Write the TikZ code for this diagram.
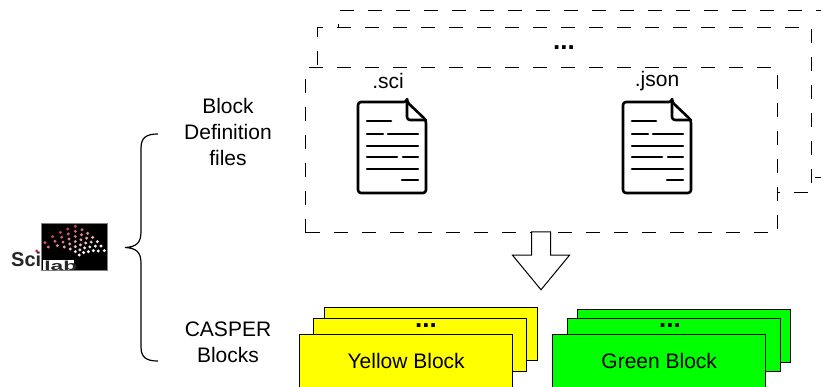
\documentclass[tikz,border=0pt]{standalone}
\usepackage{fontspec}
\setmainfont{Liberation Sans}
\usetikzlibrary{shapes.arrows,positioning}
\definecolor{logored}{RGB}{205,35,50}
\definecolor{blockyellow}{RGB}{255,255,0}
\definecolor{blockgreen}{RGB}{0,255,0}
\begin{document}
\begin{tikzpicture}[x=1pt,y=-1pt,
    dashbox/.style={draw, fill=white, line width=1.3pt, dash pattern=on 14pt off 14pt, anchor=north west, inner sep=0pt},
    blockbox/.style={draw, line width=1.4pt, anchor=north west, inner sep=0pt, minimum width=213pt, minimum height=53pt, font=\fontsize{21}{24}\selectfont},
    sidelabel/.style={font=\fontsize{21}{26}\selectfont, align=center},
    extlabel/.style={font=\fontsize{21}{24}\selectfont},
    dotslabel/.style={font=\bfseries\fontsize{26}{26}\selectfont, inner sep=0pt}
]
    \useasboundingbox (0,0) rectangle (821,387);
    \clip (0,0) rectangle (821,387);

    % Dashed file sets
    \node[dashbox, minimum width=540pt, minimum height=167pt] (backset) at (338,10) {};
    \node[dashbox, minimum width=494pt, minimum height=165pt] (midset) at (317,27) {};
    \node[dashbox, minimum width=472pt, minimum height=165pt] (frontset) at (305,67) {};
    \node[dotslabel] (middots) at (564,48) {...};

    % Files
    \foreach \name/\x/\lx/\ext in {sci/358/388/.sci,json/623/657/.json} {
        \begin{scope}[shift={(\x,0)}, line width=2.6pt, line cap=round, line join=round]
            \draw[rounded corners=3pt] (49,102) -- (0,102) -- (0,193) -- (68,193) -- (68,120) -- (49,102) -- cycle;
            \draw[rounded corners=3pt] (49,102) -- (49,120) -- (68,120);
            \draw (9,121) -- (33,121);
            \draw (9,134) -- (25,134) (30,134) -- (60,134);
            \draw (9,146) -- (60,146);
            \draw (9,157) -- (39,157) (45,157) -- (60,157);
            \draw (9,169) -- (60,169);
            \draw (44,180) -- (60,180);
        \end{scope}
        \node[extlabel] (\name label) at (\lx,81) {\ext};
    }

    % Transform arrow
    \node[draw, single arrow, single arrow tip angle=79, single arrow head extend=19pt, single arrow head indent=0pt, shape border rotate=270,
        line width=1pt, minimum height=58pt, inner sep=9pt, fill=white] (convert) at (541,255) {};

    % CASPER blocks
    \node[blockbox, fill=blockyellow] (yellowback) at (324,307) {};
    \node[blockbox, fill=blockyellow] (yellowmid) at (313,318) {};
    \node[blockbox, fill=blockyellow] (yellowblock) at (299,334) {Yellow Block};
    \node[dotslabel] (yellowdots) at (426,326) {...};
    \node[blockbox, fill=blockgreen] (greenback) at (577,309) {};
    \node[blockbox, fill=blockgreen] (greenmid) at (567,318) {};
    \node[blockbox, fill=blockgreen] (greenblock) at (552,334) {Green Block};
    \node[dotslabel] (greendots) at (670,326) {...};

    % Labels
    \node[sidelabel] (deflabel) at (228,132) {Block\\Definition\\files};
    \node[sidelabel] (casperlabel) at (228,342) {CASPER\\Blocks};

    % Brace
    \coordinate (bracetop) at (158,134);
    \coordinate (braceend) at (158,361);
    \coordinate (bracetip) at (125,247.5);
    \draw[line width=1.2pt] (bracetop) .. controls (147,134) and (141,137) .. (141,148) -- (141,232)
        .. controls (141,243) and (136,247) .. (bracetip)
        .. controls (136,248) and (141,252) .. (141,263) -- (141,347)
        .. controls (141,358) and (147,361) .. (braceend);

    % Scilab logo
    \node[fill=black, draw=gray, line width=0.4pt, minimum width=66pt, minimum height=47pt, inner sep=0pt] (logobox) at (74.3,246.5) {};
    \node[fill=white, minimum width=31pt, minimum height=10pt, inner sep=0pt, anchor=south west] (logocut) at (43,270.5) {};
    \foreach \tx/\ty/\bx/\by/\n in {135/128/145/141/2,158/110/172/137/3,181/97/193/141/4,203/87/211/147/5,226/79/226/155/6,
        246/89/238/165/6,263/100/251/158/5,278/112/265/155/4,292/125/280/152/3,303/138/295/153/2,313/152/313/152/1} {
        \pgfmathtruncatemacro{\last}{\n-1}
        \foreach \i in {0,...,\last} {
            \pgfmathsetmacro{\px}{\tx+(\bx-\tx)*\i/max(\last,1)}
            \pgfmathsetmacro{\py}{\ty+(\by-\ty)*\i/max(\last,1)}
            \pgfmathsetmacro{\mixval}{100*max(0,min(1,(\px-135)/178*0.7+(\py-90)/80*0.7-0.1))}
            \fill[white!\mixval!logored] (\px/3,200+\py/3) circle (1.6pt);
        }
    }
    \node[font=\bfseries\fontsize{20}{20}\selectfont, inner sep=0pt, anchor=base west, text=black!85] (logosci) at (11,266) {Sci};
    \fill[logored] (36.7,251) circle (1.7pt);
    \node[font=\bfseries\fontsize{13}{13}\selectfont, xscale=1.75, inner sep=0pt, anchor=base west, text=black!85] (logolab) at (44,270.5) {lab};
\end{tikzpicture}
\end{document}
